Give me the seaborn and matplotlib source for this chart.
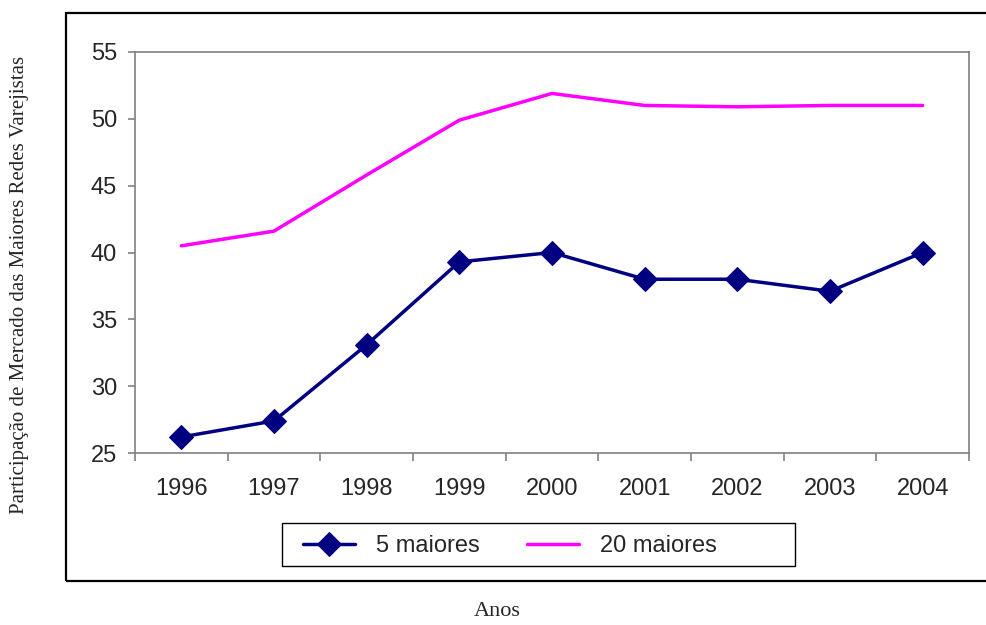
import matplotlib
matplotlib.use("Agg")
import matplotlib.pyplot as plt
import matplotlib.patches as patches
from matplotlib.ticker import FixedLocator
import seaborn as sns
import pandas as pd

# dados
anos = ['1996', '1997', '1998', '1999', '2000', '2001', '2002', '2003', '2004']
maiores_5 = [26.2, 27.4, 33.1, 39.3, 40.0, 38.0, 38.0, 37.1, 40.0]
maiores_20 = [40.5, 41.6, 45.8, 49.9, 51.9, 51.0, 50.9, 51.0, 51.0]

sns.set_style("white")
plt.rcParams['font.family'] = ['Liberation Sans', 'DejaVu Sans']

df = pd.DataFrame({'ano': range(len(anos)), '5 maiores': maiores_5, '20 maiores': maiores_20})

fig = plt.figure(figsize=(9.86, 6.25), dpi=100)
ax = fig.add_axes([135 / 986, 1 - 453 / 625, (969 - 135) / 986, (453 - 52) / 625])

sns.lineplot(data=df, x='ano', y='5 maiores', ax=ax, color='#000080', lw=2.5,
             marker='D', markersize=12, markeredgecolor='#000080', label='5 maiores')
sns.lineplot(data=df, x='ano', y='20 maiores', ax=ax, color='#FF00FF', lw=2.5,
             label='20 maiores')

ax.set_xlim(-0.5, len(anos) - 0.5)
ax.set_ylim(25, 55)
ax.set_yticks([25, 30, 35, 40, 45, 50, 55])
ax.set_xticks(range(len(anos)))
ax.set_xticklabels(anos)
ax.xaxis.set_minor_locator(FixedLocator([i - 0.5 for i in range(len(anos) + 1)]))
ax.set_xlabel('')
ax.set_ylabel('')

for s in ax.spines.values():
    s.set_color('#808080')
    s.set_linewidth(1.2)
ax.tick_params(axis='y', which='major', direction='out', length=5, width=1.2,
               color='#808080', labelsize=17, pad=8, left=True)
ax.tick_params(axis='x', which='major', length=0, labelsize=17, pad=18)
ax.tick_params(axis='x', which='minor', direction='out', length=6, width=1.2,
               color='#808080', bottom=True)

ax.get_legend().remove()
h, l = ax.get_legend_handles_labels()
leg = fig.legend(h, l, ncol=2, loc='center left',
                 bbox_to_anchor=(303 / 986, 1 - 546 / 625),
                 fontsize=17, frameon=False, handlelength=2.2, handletextpad=0.9,
                 columnspacing=2.0, borderpad=0, borderaxespad=0)

# caixa da legenda
fig.patches.append(patches.Rectangle((282 / 986, 1 - 566 / 625), (795 - 282) / 986, 43 / 625,
                                     transform=fig.transFigure, fill=False,
                                     edgecolor='black', linewidth=1.0))
# moldura externa do grafico
fig.patches.append(patches.Rectangle((66 / 986, 1 - 581 / 625), 1.0, (581 - 13) / 625,
                                     transform=fig.transFigure, fill=False,
                                     edgecolor='black', linewidth=1.6))

fig.text(20 / 986, 1 - 285 / 625, 'Participação de Mercado das Maiores Redes Varejistas',
         rotation=90, ha='center', va='center', fontsize=15, family='Liberation Serif')
fig.text(497 / 986, 1 - 612 / 625, 'Anos', ha='center', va='center',
         fontsize=16, family='Liberation Serif')

fig.savefig('out.png', dpi=100)
